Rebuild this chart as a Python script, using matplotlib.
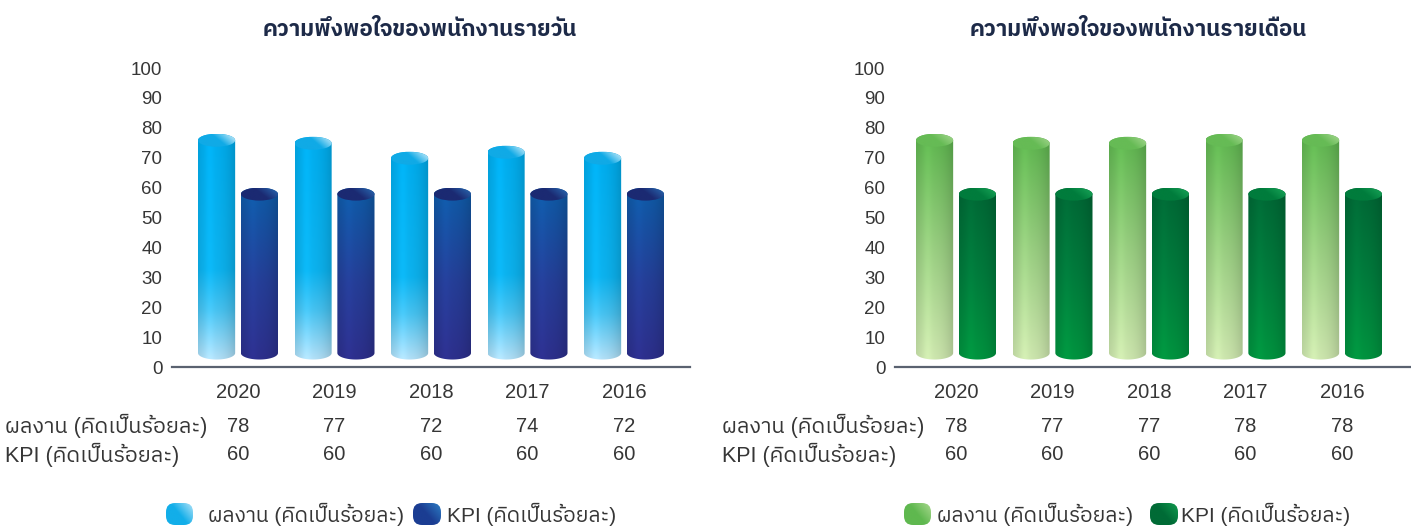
import numpy as np
import matplotlib
matplotlib.use("Agg")
import matplotlib.pyplot as plt
from matplotlib import font_manager
from matplotlib.ft2font import FT2Font
from matplotlib.path import Path
from matplotlib.patches import PathPatch, Ellipse, FancyBboxPatch
from matplotlib.colors import to_rgb
from matplotlib.transforms import blended_transform_factory

# ข้อมูล
years = ["2020", "2019", "2018", "2017", "2016"]
daily_result = [78, 77, 72, 74, 72]
daily_kpi = [60, 60, 60, 60, 60]
monthly_result = [78, 77, 77, 78, 78]
monthly_kpi = [60, 60, 60, 60, 60]

title_daily = "ความพึงพอใจของพนักงานรายวัน"
title_monthly = "ความพึงพอใจของพนักงานรายเดือน"
label_result = "ผลงาน (คิดเป็นร้อยละ)"
label_kpi = "KPI (คิดเป็นร้อยละ)"
yticks = list(range(0, 101, 10))


def find_thai_font():
    found = []
    for f in font_manager.fontManager.ttflist:
        try:
            if 0x0E01 in FT2Font(f.fname).get_charmap():
                found.append(f.name)
        except Exception:
            pass
    for name in found:
        if "Thai" in name:
            return name
    return found[0] if found else None


thai = find_thai_font()
families = ["Liberation Sans"] + ([thai] if thai else []) + ["DejaVu Sans"]
plt.rcParams["font.family"] = families

W, H = 1411, 529
fig = plt.figure(figsize=(W / 100, H / 100), dpi=100)
TXT = "#363636"


def fx(px):
    return px / W


def fy(px):
    return (H - px) / H


def ramp(stops, t):
    pos = [s[0] for s in stops]
    cols = np.array([to_rgb(s[1]) for s in stops])
    return np.stack([np.interp(t, pos, cols[:, k]) for k in range(3)], axis=-1)


def body_image(stops, nx=60, ny=200):
    t = np.linspace(0, 1, ny)
    col = ramp(stops, t)[:, None, :]
    u = np.linspace(0, 1, nx)
    shade = 1 - 0.16 * ((u - 0.4) / 0.6) ** 2
    shade = shade + 0.05 * np.exp(-((u - 0.3) / 0.12) ** 2)
    return np.clip(col * shade[None, :, None], 0, 1)


def cap_image(c1, c2, n=40):
    u = np.linspace(0, 1, n)
    uu, vv = np.meshgrid(u, u)
    t = np.clip(0.7 * uu + 0.3 * vv, 0, 1)
    return ramp([(0, c1), (0.55, c1), (1, c2)], t)


def cylinder(ax, xc, w, y0, y1, b, stops, cap):
    a = w / 2
    yb, yt = y0 + b, y1 - b
    t1 = np.linspace(np.pi, 2 * np.pi, 40)
    t2 = np.linspace(0, np.pi, 40)
    verts = np.vstack([
        np.column_stack([xc + a * np.cos(t1), yb + b * np.sin(t1)]),
        np.column_stack([xc + a * np.cos(t2), yt + b * np.sin(t2)]),
    ])
    verts = np.vstack([verts, verts[:1]])
    patch = PathPatch(Path(verts, closed=True), fc="none", ec="none",
                      transform=ax.transData)
    ax.add_patch(patch)
    im = ax.imshow(body_image(stops), extent=(xc - a, xc + a, y0, y1),
                   origin="lower", aspect="auto", interpolation="bilinear", zorder=2)
    im.set_clip_path(patch)
    ell = Ellipse((xc, yt), w, 2 * b, fc="none", ec="none", transform=ax.transData)
    ax.add_patch(ell)
    im2 = ax.imshow(cap_image(*cap), extent=(xc - a, xc + a, yt - b, yt + b),
                    origin="lower", aspect="auto", interpolation="bilinear", zorder=3)
    im2.set_clip_path(ell)


# overlay สำหรับ legend (พิกัดพิกเซล)
lay = fig.add_axes([0, 0, 1, 1], zorder=0)
lay.set_facecolor("none")


def legend_icon(x, y, w, h, c1, c2):
    box = FancyBboxPatch((x, H - y - h), w, h, boxstyle="round,pad=0,rounding_size=9",
                         fc="none", ec="none", transform=lay.transData)
    lay.add_patch(box)
    u = np.linspace(0, 1, 40)
    uu, vv = np.meshgrid(u, u)
    img = ramp([(0, c1), (0.5, c1), (1, c2)], np.clip(0.6 * uu + 0.4 * vv, 0, 1))
    im = lay.imshow(img, extent=(x, x + w, H - y - h, H - y), origin="lower",
                    aspect="auto", interpolation="bilinear")
    im.set_clip_path(box)


charts = [
    dict(title=title_daily, result=daily_result, kpi=daily_kpi,
         ax_px=(172, 690), first=238, title_x=420, row_x=5,
         light=[(0, "#b3e0f7"), (0.22, "#47c2f0"), (0.4, "#0cb2ee"), (1, "#00adee")],
         light_cap=("#10aae6", "#dff4fd"),
         dark=[(0, "#2d2f8c"), (0.45, "#253e97"), (1, "#0e5ca8")],
         dark_cap=("#1b2a72", "#2a6db5"),
         icon_light=("#12aee9", "#aee2f8"), icon_dark=("#1b3d92", "#2d7dc4"),
         leg=(166, 208, 413, 447)),
    dict(title=title_monthly, result=monthly_result, kpi=monthly_kpi,
         ax_px=(895, 1411), first=956, title_x=1138, row_x=722,
         light=[(0, "#cde6ae"), (0.5, "#98cd80"), (1, "#5db54e")],
         light_cap=("#66bb55", "#a9d993"),
         dark=[(0, "#00943f"), (0.5, "#007b3c"), (1, "#006735")],
         dark_cap=("#007c3c", "#1aa75a"),
         icon_light=("#5fb84f", "#a8d88e"), icon_dark=("#006b36", "#119a4f"),
         leg=(904, 937, 1150, 1181)),
]

axis_top, axis_bottom = 68, 367
pitch_px = 96.5
for c in charts:
    left, right = c["ax_px"]
    ax = fig.add_axes([fx(left), fy(axis_bottom), fx(right - left),
                       (axis_bottom - axis_top) / H], zorder=1)
    ax.set_facecolor("none")
    x = np.arange(len(years))
    x_lo = (left - c["first"]) / pitch_px
    x_hi = (right - c["first"]) / pitch_px
    upp = 100 / (axis_bottom - axis_top)
    w = 0.385
    b = 6.5 * upp
    for i in x:
        cylinder(ax, i - 0.222, w, 2.5, c["result"][i], b, c["light"], c["light_cap"])
        cylinder(ax, i + 0.222, w, 2.5, c["kpi"][i], b, c["dark"], c["dark_cap"])
    ax.set_xlim(x_lo, x_hi)
    ax.set_ylim(0, 100)
    ax.set_yticks(yticks)
    ax.set_xticks([])
    ax.tick_params(axis="y", length=0, pad=7, labelsize=13.5, labelcolor=TXT)
    for s in ["left", "top", "right"]:
        ax.spines[s].set_visible(False)
    ax.spines["bottom"].set_color("#5a6270")
    ax.spines["bottom"].set_linewidth(1.6)

    fig.text(fx(c["title_x"]), fy(30), c["title"], ha="center", va="center",
             fontsize=16, fontweight="bold", color="#1d2a48")

    # ตารางข้อมูลใต้กราฟ
    tr = blended_transform_factory(ax.transData, fig.transFigure)
    for i in x:
        ax.text(i, fy(393), years[i], transform=tr, ha="center", va="center",
                fontsize=14.5, color=TXT, clip_on=False)
        ax.text(i, fy(426), str(c["result"][i]), transform=tr, ha="center",
                va="center", fontsize=14.5, color=TXT, clip_on=False)
        ax.text(i, fy(455), str(c["kpi"][i]), transform=tr, ha="center",
                va="center", fontsize=14.5, color=TXT, clip_on=False)
    fig.text(fx(c["row_x"]), fy(426), label_result, ha="left", va="center",
             fontsize=15.5, color=TXT)
    fig.text(fx(c["row_x"]), fy(455), label_kpi, ha="left", va="center",
             fontsize=15.5, color=TXT)

    # legend
    i1, t1, i2, t2 = c["leg"]
    legend_icon(i1, 503, 27, 22, *c["icon_light"])
    legend_icon(i2, 503, 28, 22, *c["icon_dark"])
    fig.text(fx(t1), fy(514), label_result, ha="left", va="center",
             fontsize=15, color=TXT)
    fig.text(fx(t2), fy(514), label_kpi, ha="left", va="center",
             fontsize=15, color=TXT)

lay.set_xlim(0, W)
lay.set_ylim(0, H)
lay.axis("off")

fig.savefig("out.png", dpi=100)
